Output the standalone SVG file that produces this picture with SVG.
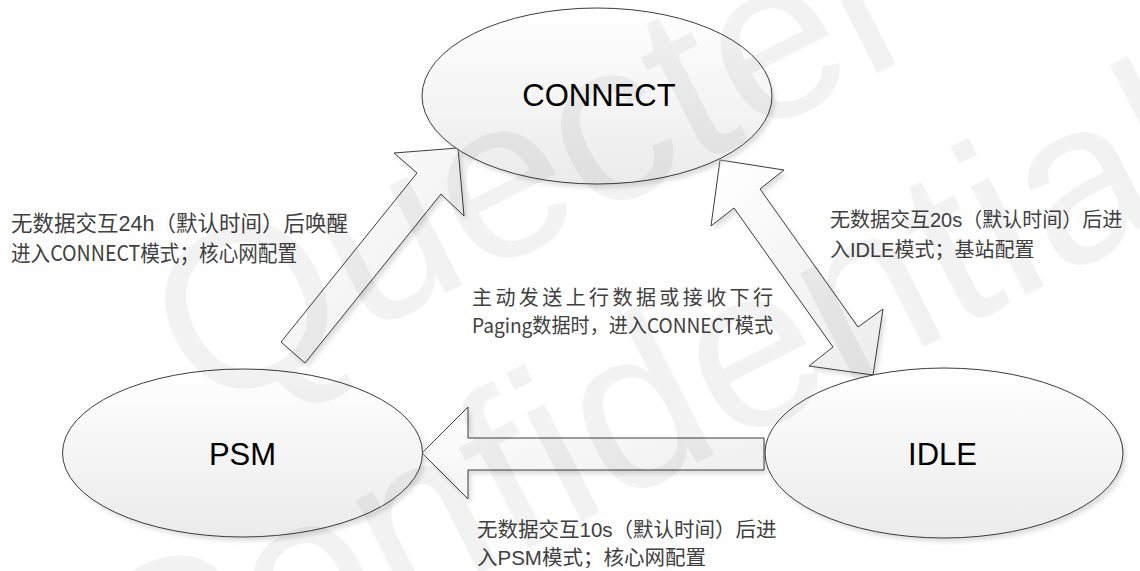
<svg xmlns="http://www.w3.org/2000/svg" width="1140" height="571" viewBox="0 0 1140 571">
<defs>
<linearGradient id="gFill" x1="0" y1="0" x2="0" y2="1">
<stop offset="0" stop-color="#ffffff"/>
<stop offset="1" stop-color="#ebebeb"/>
</linearGradient>
<linearGradient id="gArrow" x1="0" y1="0" x2="1" y2="1">
<stop offset="0" stop-color="#ffffff"/>
<stop offset="1" stop-color="#ececec"/>
</linearGradient>
<filter id="blur" x="-10%" y="-10%" width="120%" height="120%">
<feGaussianBlur stdDeviation="2"/>
</filter>
<style>
.shape{fill:url(#gFill);stroke:#3c3c3c;stroke-width:1}
.arrow{fill:url(#gArrow);stroke:#3c3c3c;stroke-width:1;stroke-linejoin:miter}
.shadow{fill:#b8b8b8;opacity:0.45;filter:url(#blur)}
.node{font-family:"Liberation Sans",Arial,sans-serif;font-size:31px;fill:#000;text-anchor:middle}
.lbl{font-family:"Noto Sans CJK SC","Noto Sans",sans-serif;font-size:20px;fill:#404040}
.lat{font-family:"Liberation Sans",Arial,sans-serif}
.wm{font-family:"Liberation Sans",Arial,sans-serif;font-size:230px;fill:#000;fill-opacity:0.05}
</style>
</defs>
<rect width="1140" height="571" fill="#ffffff"/>

<g id="connectors">
<polygon class="shadow" transform="translate(3,4)" points="458,148 464,216 441,194 305,363 281,342 417,173 394,153"/>
<polygon class="shadow" transform="translate(3,4)" points="720,160 784,170 760,189 858,327 883,309 873,375 809,366 833,347 734,208 711,226"/>
<polygon class="shadow" transform="translate(3,4)" points="422,453 468,407 468,438 764,438 764,470 468,470 468,499"/>
<polygon id="arrow-psm-connect" class="arrow" points="458,148 464,216 441,194 305,363 281,342 417,173 394,153"/>
<polygon id="arrow-connect-idle" class="arrow" points="720,160 784,170 760,189 858,327 883,309 873,375 809,366 833,347 734,208 711,226"/>
<polygon id="arrow-idle-psm" class="arrow" points="422,453 468,407 468,438 764,438 764,470 468,470 468,499"/>
</g>

<g id="node-connect">
<ellipse class="shadow" cx="600" cy="100" rx="175" ry="88"/>
<ellipse class="shape" cx="597" cy="96" rx="175" ry="88"/>
<text class="node" x="599" y="106">CONNECT</text>
</g>

<g id="node-psm">
<ellipse class="shadow" cx="246" cy="457" rx="180" ry="84"/>
<ellipse class="shape" cx="242.5" cy="453" rx="180" ry="84"/>
<text class="node" x="242.5" y="465">PSM</text>
</g>

<g id="node-idle">
<ellipse class="shadow" cx="947" cy="457" rx="179" ry="85"/>
<ellipse class="shape" cx="944" cy="453" rx="179" ry="85"/>
<text class="node" x="942.5" y="465">IDLE</text>
</g>

<g id="labels">
<text class="lbl" style="font-size:21.5px" x="11" y="231">无数据交互<tspan class="lat">24h</tspan>（默认时间）后唤醒</text>
<text class="lbl" style="font-size:21.5px" x="11" y="261" textLength="286" lengthAdjust="spacingAndGlyphs">进入CONNECT模式；核心网配置</text>
<text class="lbl" x="830" y="227">无数据交互<tspan class="lat">20s</tspan>（默认时间）后进</text>
<text class="lbl" x="830" y="257">入<tspan class="lat">IDLE</tspan>模式；基站配置</text>
<text class="lbl" x="472" y="305" textLength="301" lengthAdjust="spacing">主动发送上行数据或接收下行</text>
<text class="lbl" x="472" y="333" textLength="301" lengthAdjust="spacingAndGlyphs">Paging数据时，进入CONNECT模式</text>
<text class="lbl" style="font-size:20.5px" x="477" y="537">无数据交互<tspan class="lat">10s</tspan>（默认时间）后进</text>
<text class="lbl" style="font-size:20.5px" x="477" y="565">入<tspan class="lat">PSM</tspan>模式；核心网配置</text>
</g>

<g id="watermark">
<text class="wm" transform="translate(203,417) rotate(-27)">Quectel</text>
<text class="wm" transform="translate(135,749) rotate(-27)">Confidential</text>
</g>
</svg>
